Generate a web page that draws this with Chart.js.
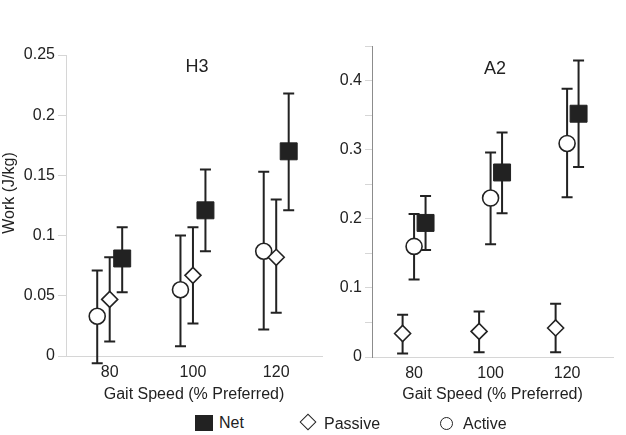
<!DOCTYPE html>
<html>
<head>
<meta charset="utf-8">
<script src="https://cdn.jsdelivr.net/npm/chart.js@4"></script>
<style>
  body { margin: 0; background: #fff; font-family: "Liberation Sans", Arial, sans-serif; color: #222; }
  #wrap { position: relative; width: 626px; height: 435px; overflow: hidden; }
  canvas { position: absolute; top: 0; }
  #h3Chart { left: 0; }
  #a2Chart { left: 330px; }
  .lg { position: absolute; font-size: 16px; line-height: 16px; }
  .sq { position: absolute; width: 18px; height: 16px; background: #222; }
  .dia { position: absolute; width: 10px; height: 10px; border: 1.6px solid #222; background: #fff; transform: rotate(45deg); }
  .circ { position: absolute; width: 11px; height: 11px; border: 1.6px solid #222; border-radius: 50%; background: #fff; }
</style>
</head>
<body>
<div id="wrap">
  <canvas id="h3Chart" width="335" height="405"></canvas>
  <canvas id="a2Chart" width="296" height="405"></canvas>

  <!-- shared legend under both panels -->
  <div class="sq" style="left:195px; top:415px;"></div>
  <div class="lg" style="left:219px; top:415px;">Net</div>
  <div class="dia" style="left:302px; top:416px;"></div>
  <div class="lg" style="left:324px; top:416px;">Passive</div>
  <div class="circ" style="left:440px; top:417px;"></div>
  <div class="lg" style="left:463px; top:416px;">Active</div>
</div>

<script>
// Gait speeds (% preferred)
const speeds = [80, 100, 120];

// H3 panel: means and error bar ends (J/kg)
const h3Net       = [0.081, 0.121, 0.170];
const h3NetLo     = [0.053, 0.087, 0.121];
const h3NetHi     = [0.107, 0.155, 0.218];
const h3Passive   = [0.047, 0.067, 0.082];
const h3PassiveLo = [0.012, 0.027, 0.036];
const h3PassiveHi = [0.082, 0.107, 0.130];
const h3Active    = [0.033, 0.055, 0.087];
const h3ActiveLo  = [-0.006, 0.008, 0.022];
const h3ActiveHi  = [0.071, 0.100, 0.153];

// A2 panel
const a2Net       = [0.194, 0.267, 0.352];
const a2NetLo     = [0.155, 0.208, 0.275];
const a2NetHi     = [0.233, 0.325, 0.429];
const a2Passive   = [0.034, 0.037, 0.042];
const a2PassiveLo = [0.005, 0.007, 0.007];
const a2PassiveHi = [0.061, 0.066, 0.077];
const a2Active    = [0.160, 0.230, 0.309];
const a2ActiveLo  = [0.112, 0.163, 0.231];
const a2ActiveHi  = [0.207, 0.296, 0.388];

// y tick labels
const h3Ticks = [0, 0.05, 0.1, 0.15, 0.2, 0.25];
const a2Ticks = [0, 0.1, 0.2, 0.3, 0.4];

const FONT = "'Liberation Sans', Arial, sans-serif";
const INK = "#222";
const AXIS_LIGHT = "#d6d6d6";

// dodge the three markers around each speed
function dodge(offset) {
  return speeds.map(s => s + offset);
}

function points(xs, ys) {
  return xs.map((x, i) => ({ x, y: ys[i] }));
}

// Error bars drawn under the markers
const errorBars = {
  id: "errorBars",
  beforeDatasetsDraw(chart) {
    const ctx = chart.ctx;
    const y = chart.scales.y;
    ctx.save();
    ctx.strokeStyle = INK;
    ctx.lineWidth = 2;
    chart.data.datasets.forEach((ds, di) => {
      const meta = chart.getDatasetMeta(di);
      meta.data.forEach((pt, i) => {
        const top = y.getPixelForValue(ds.hi[i]);
        const bot = y.getPixelForValue(ds.lo[i]);
        ctx.beginPath();
        ctx.moveTo(pt.x, top); ctx.lineTo(pt.x, bot);
        ctx.moveTo(pt.x - 5.5, top); ctx.lineTo(pt.x + 5.5, top);
        ctx.moveTo(pt.x - 5.5, bot); ctx.lineTo(pt.x + 5.5, bot);
        ctx.stroke();
      });
    });
    ctx.restore();
  }
};

// Free text: panel name and the y axis title
const panelText = {
  id: "panelText",
  afterDraw(chart, args, opts) {
    const ctx = chart.ctx;
    (opts.items || []).forEach(t => {
      ctx.save();
      ctx.font = t.size + "px " + FONT;
      ctx.fillStyle = INK;
      ctx.textAlign = "center";
      ctx.textBaseline = "middle";
      ctx.translate(t.x, t.y);
      if (t.rotate) ctx.rotate(-Math.PI / 2);
      ctx.fillText(t.text, 0, 0);
      ctx.restore();
    });
  }
};

function netSet(xs, ys, lo, hi) {
  return { label: "Net", data: points(xs, ys), lo, hi, pointStyle: "rect", pointRadius: 12,
    backgroundColor: INK, borderColor: INK, borderWidth: 1 };
}
function passiveSet(xs, ys, lo, hi) {
  return { label: "Passive", data: points(xs, ys), lo, hi, pointStyle: "rectRot", pointRadius: 8,
    backgroundColor: "#fff", borderColor: INK, borderWidth: 1.6 };
}
function activeSet(xs, ys, lo, hi) {
  return { label: "Active", data: points(xs, ys), lo, hi, pointStyle: "circle", pointRadius: 8,
    backgroundColor: "#fff", borderColor: INK, borderWidth: 1.6 };
}

function makePanel(canvasId, datasets, cfg) {
  const ctx = document.getElementById(canvasId).getContext("2d");
  return new Chart(ctx, {
    type: "scatter",
    data: { datasets },
    plugins: [errorBars, panelText],
    options: {
      responsive: false,
      animation: false,
      layout: { padding: { top: cfg.top, right: 0, left: 0, bottom: 0 } },
      plugins: {
        legend: { display: false },
        tooltip: { enabled: false },
        panelText: { items: cfg.texts }
      },
      scales: {
        x: {
          type: "linear",
          min: cfg.xMin, max: cfg.xMax,
          afterFit: s => { s.height = cfg.xHeight; },
          afterBuildTicks: s => { s.ticks = speeds.map(v => ({ value: v })); },
          border: { display: true, color: AXIS_LIGHT, width: 1 },
          grid: { display: false, drawTicks: false },
          ticks: { padding: 7, color: INK, font: { family: FONT, size: 16 } },
          title: { display: true, text: "Gait Speed (% Preferred)", color: INK,
                   font: { family: FONT, size: 16 }, padding: { top: 0, bottom: 1 } }
        },
        y: {
          min: 0, max: cfg.yMax,
          afterFit: s => { s.width = cfg.yWidth; },
          afterBuildTicks: s => { s.ticks = cfg.yMarks.map(v => ({ value: v })); },
          border: { display: true, color: cfg.yAxisColor, width: 1 },
          grid: { drawOnChartArea: false, color: AXIS_LIGHT, tickLength: cfg.tickLen },
          ticks: {
            padding: 3, color: INK, font: { family: FONT, size: 16 },
            callback: v => cfg.yLabels.some(t => Math.abs(t - v) < 1e-9) ? String(+v.toFixed(2)) : ""
          }
        }
      }
    }
  });
}

document.addEventListener("DOMContentLoaded", () => {
  // H3: Active left, Passive centre, Net right
  makePanel("h3Chart", [
    netSet(dodge(3), h3Net, h3NetLo, h3NetHi),
    passiveSet(dodge(0), h3Passive, h3PassiveLo, h3PassiveHi),
    activeSet(dodge(-3), h3Active, h3ActiveLo, h3ActiveHi)
  ], {
    top: 55, xHeight: 49, yWidth: 66, xMin: 69.5, xMax: 131, yMax: 0.25,
    yMarks: h3Ticks, yLabels: h3Ticks, yAxisColor: AXIS_LIGHT, tickLen: 8,
    texts: [
      { text: "H3", x: 197, y: 67, size: 18 },
      { text: "Work (J/kg)", x: 10, y: 193, size: 16, rotate: true }
    ]
  });

  // A2: Passive left, Active centre, Net right; minor ticks every 0.05
  const a2Marks = [0, 0.05, 0.1, 0.15, 0.2, 0.25, 0.3, 0.35, 0.4, 0.45];
  makePanel("a2Chart", [
    netSet(dodge(3), a2Net, a2NetLo, a2NetHi),
    activeSet(dodge(0), a2Active, a2ActiveLo, a2ActiveHi),
    passiveSet(dodge(-3), a2Passive, a2PassiveLo, a2PassiveHi)
  ], {
    top: 46, xHeight: 48, yWidth: 42, xMin: 69, xMax: 132, yMax: 0.45,
    yMarks: a2Marks, yLabels: a2Ticks, yAxisColor: "#8c8c8c", tickLen: 7,
    texts: [
      { text: "A2", x: 165, y: 69, size: 18 }
    ]
  });
});
</script>
</body>
</html>
